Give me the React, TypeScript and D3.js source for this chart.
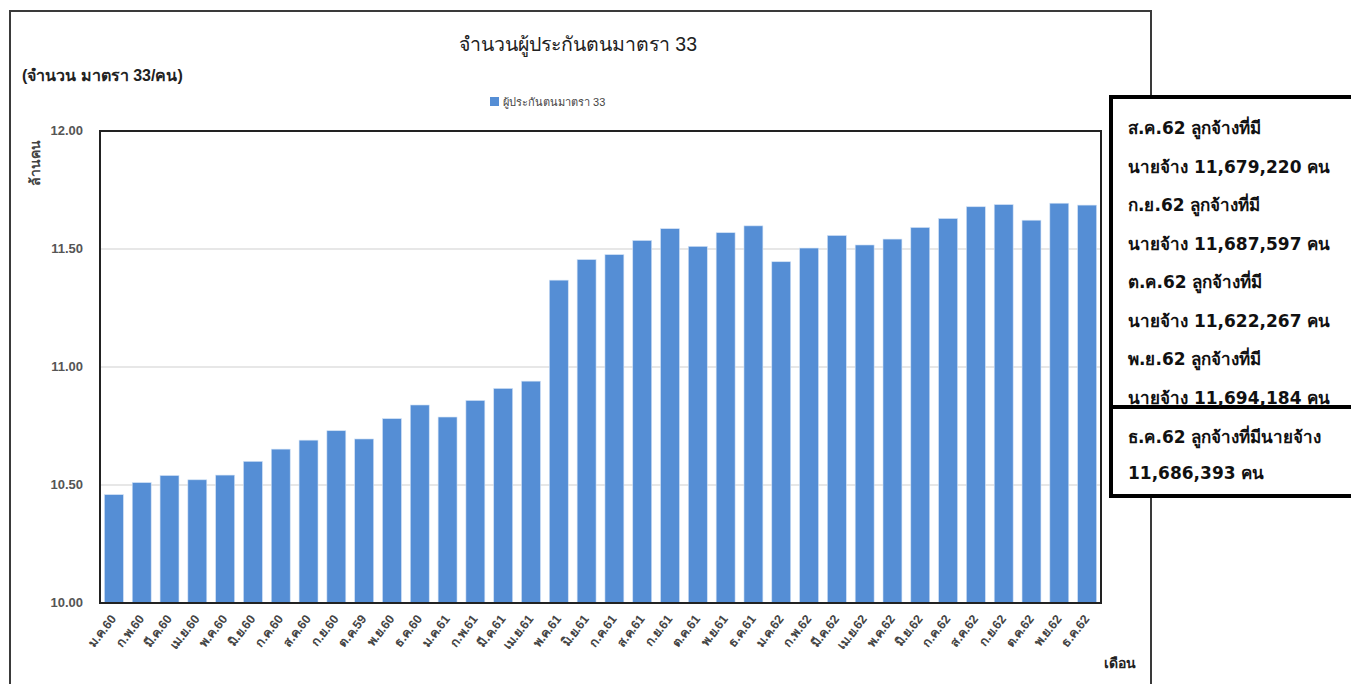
import * as d3 from "d3";
import React, { useEffect, useRef } from "react";

// months (Thai abbreviations) as shown under the bars
const months = [
  "ม.ค.60", "ก.พ.60", "มี.ค.60", "เม.ย.60", "พ.ค.60", "มิ.ย.60",
  "ก.ค.60", "ส.ค.60", "ก.ย.60", "ต.ค.59", "พ.ย.60", "ธ.ค.60",
  "ม.ค.61", "ก.พ.61", "มี.ค.61", "เม.ย.61", "พ.ค.61", "มิ.ย.61",
  "ก.ค.61", "ส.ค.61", "ก.ย.61", "ต.ค.61", "พ.ย.61", "ธ.ค.61",
  "ม.ค.62", "ก.พ.62", "มี.ค.62", "เม.ย.62", "พ.ค.62", "มิ.ย.62",
  "ก.ค.62", "ส.ค.62", "ก.ย.62", "ต.ค.62", "พ.ย.62", "ธ.ค.62",
];

// insured persons, article 33 (millions)
const insured = [
  10.459, 10.51, 10.54, 10.522, 10.542, 10.6,
  10.652, 10.69, 10.73, 10.695, 10.781, 10.839,
  10.788, 10.858, 10.909, 10.94, 11.368, 11.455,
  11.476, 11.536, 11.586, 11.511, 11.569, 11.598,
  11.446, 11.504, 11.557, 11.517, 11.542, 11.591,
  11.629, 11.679, 11.688, 11.622, 11.694, 11.686,
];

const yTicks = [10, 10.5, 11, 11.5, 12];

const noteTop = [
  "ส.ค.62 ลูกจ้างที่มี",
  "นายจ้าง 11,679,220 คน",
  "ก.ย.62 ลูกจ้างที่มี",
  "นายจ้าง 11,687,597 คน",
  "ต.ค.62 ลูกจ้างที่มี",
  "นายจ้าง 11,622,267 คน",
  "พ.ย.62 ลูกจ้างที่มี",
  "นายจ้าง 11,694,184 คน",
];
const noteBottom = ["ธ.ค.62 ลูกจ้างที่มีนายจ้าง", "11,686,393 คน"];

const FONT = "Tahoma, 'Liberation Sans', 'DejaVu Sans', sans-serif";
const NOTE_FONT = "Tahoma, 'DejaVu Sans', sans-serif";
const BAR = "#558ED5";

export default function App() {
  const svgRef = useRef<SVGSVGElement | null>(null);

  useEffect(() => {
    document.body.style.margin = "0";
    if (!svgRef.current) return;
    const svg = d3.select(svgRef.current);
    svg.selectAll("*").remove();
    svg.style("font-family", FONT);

    const plot = { left: 100, right: 1101, top: 131, bottom: 603 };

    const x = d3
      .scaleBand()
      .domain(months)
      .range([plot.left, plot.right])
      .paddingInner(0.32)
      .paddingOuter(0.16);
    const y = d3.scaleLinear().domain([10, 12]).range([plot.bottom, plot.top]);

    // outer chart frame
    svg
      .append("rect")
      .attr("x", 10)
      .attr("y", 11)
      .attr("width", 1141)
      .attr("height", 700)
      .attr("fill", "white")
      .attr("stroke", "#3a3a3a")
      .attr("stroke-width", 2);

    // gridlines
    svg
      .append("g")
      .selectAll("line")
      .data(yTicks.slice(1, -1))
      .enter()
      .append("line")
      .attr("x1", plot.left)
      .attr("x2", plot.right)
      .attr("y1", (d) => y(d))
      .attr("y2", (d) => y(d))
      .attr("stroke", "#d0d0d0")
      .attr("stroke-width", 1.2);

    // bars
    svg
      .append("g")
      .selectAll("rect")
      .data(insured)
      .enter()
      .append("rect")
      .attr("x", (_, i) => x(months[i]) as number)
      .attr("width", x.bandwidth())
      .attr("y", (d) => y(d))
      .attr("height", (d) => plot.bottom - y(d))
      .attr("fill", BAR)
      .attr("stroke", "#cfe0f5")
      .attr("stroke-width", 0.6);

    // plot border
    svg
      .append("rect")
      .attr("x", plot.left)
      .attr("y", plot.top)
      .attr("width", plot.right - plot.left)
      .attr("height", plot.bottom - plot.top)
      .attr("fill", "none")
      .attr("stroke", "#222")
      .attr("stroke-width", 2);

    // y tick labels
    svg
      .append("g")
      .selectAll("text")
      .data(yTicks)
      .enter()
      .append("text")
      .attr("x", 83)
      .attr("y", (d) => y(d) + 4)
      .attr("text-anchor", "end")
      .attr("font-size", 13)
      .attr("font-weight", "bold")
      .attr("fill", "#555")
      .text((d) => d3.format(".2f")(d));

    // x tick labels
    svg
      .append("g")
      .selectAll("text")
      .data(months)
      .enter()
      .append("text")
      .attr("transform", (d) => {
        const cx = (x(d) as number) + x.bandwidth() / 2 + 3;
        return `translate(${cx},619) rotate(-52)`;
      })
      .attr("text-anchor", "end")
      .attr("font-size", 12.5)
      .attr("font-weight", "bold")
      .attr("fill", "#444")
      .text((d) => d);

    // titles
    svg
      .append("text")
      .attr("x", 578)
      .attr("y", 51)
      .attr("text-anchor", "middle")
      .attr("font-size", 19.5)
      .attr("fill", "#222")
      .text("จำนวนผู้ประกันตนมาตรา 33");
    svg
      .append("text")
      .attr("x", 22)
      .attr("y", 81)
      .attr("font-size", 16)
      .attr("font-weight", "bold")
      .attr("fill", "#222")
      .text("(จำนวน มาตรา 33/คน)");

    // legend
    svg
      .append("rect")
      .attr("x", 490)
      .attr("y", 97)
      .attr("width", 9)
      .attr("height", 9)
      .attr("fill", BAR);
    svg
      .append("text")
      .attr("x", 503)
      .attr("y", 106)
      .attr("font-size", 11)
      .attr("fill", "#444")
      .text("ผู้ประกันตนมาตรา 33");

    // axis titles
    svg
      .append("text")
      .attr("transform", "translate(40,163) rotate(-90)")
      .attr("text-anchor", "middle")
      .attr("font-size", 14)
      .attr("font-weight", "bold")
      .attr("fill", "#444")
      .text("ล้านคน");
    svg
      .append("text")
      .attr("x", 1104)
      .attr("y", 668)
      .attr("font-size", 14)
      .attr("font-weight", "bold")
      .attr("fill", "#222")
      .text("เดือน");

    // annotation box
    const note = svg.append("g").style("font-family", NOTE_FONT);
    note
      .append("rect")
      .attr("x", 1111)
      .attr("y", 97)
      .attr("width", 260)
      .attr("height", 310)
      .attr("fill", "white")
      .attr("stroke", "#000")
      .attr("stroke-width", 4);
    note
      .append("rect")
      .attr("x", 1111)
      .attr("y", 407)
      .attr("width", 260)
      .attr("height", 89)
      .attr("fill", "white")
      .attr("stroke", "#000")
      .attr("stroke-width", 4);
    note
      .selectAll("text.top")
      .data(noteTop)
      .enter()
      .append("text")
      .attr("class", "top")
      .attr("x", 1128)
      .attr("y", (_, i) => 134 + i * 38.5)
      .attr("font-size", 17)
      .attr("font-weight", "bold")
      .attr("fill", "#111")
      .text((d) => d);
    note
      .selectAll("text.bottom")
      .data(noteBottom)
      .enter()
      .append("text")
      .attr("class", "bottom")
      .attr("x", 1128)
      .attr("y", (_, i) => 443 + i * 36)
      .attr("font-size", 17)
      .attr("font-weight", "bold")
      .attr("fill", "#111")
      .text((d) => d);
  }, []);

  return <svg ref={svgRef} width={1351} height={684} style={{ display: "block" }} />;
}
